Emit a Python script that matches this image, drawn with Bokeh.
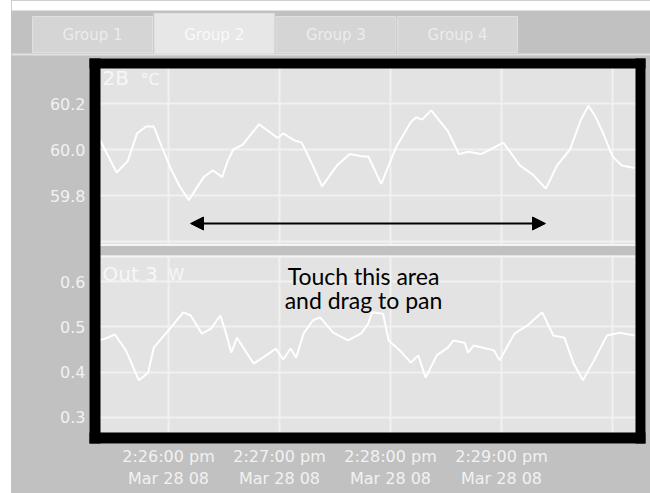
import numpy as np
from bokeh.plotting import figure
from bokeh.layouts import column, row, Spacer
from bokeh.models import (Range1d, FixedTicker, BoxAnnotation, Label, Arrow,
                          NormalHead, ColumnDataSource, DatetimeAxis, Grid)
from bokeh.core.properties import value
from bokeh.embed import file_html
from bokeh.resources import INLINE

# ---------------- data ----------------
DATE = "2008-03-28"

tab_names = ["Group 1", "Group 2", "Group 3", "Group 4"]
active_tab = 1

top_name, top_unit = "2B", "°C"
bot_name, bot_unit = "Out 3", "W"

top_times = ["14:25:23", "14:25:32", "14:25:38", "14:25:43", "14:25:48", "14:25:52",
             "14:25:57", "14:26:01", "14:26:06", "14:26:11", "14:26:15", "14:26:19",
             "14:26:24", "14:26:29", "14:26:32", "14:26:35", "14:26:40", "14:26:44",
             "14:26:49", "14:26:54", "14:26:59", "14:27:02", "14:27:08", "14:27:12",
             "14:27:18", "14:27:23", "14:27:31", "14:27:38", "14:27:45", "14:27:48",
             "14:27:55", "14:28:03", "14:28:11", "14:28:14", "14:28:17", "14:28:22",
             "14:28:31", "14:28:37", "14:28:42", "14:28:49", "14:28:54", "14:29:01",
             "14:29:10", "14:29:17", "14:29:24", "14:29:30", "14:29:37", "14:29:43",
             "14:29:47", "14:29:51", "14:29:55", "14:30:00", "14:30:05", "14:30:12"]
top_values = [60.04, 59.90, 59.95, 60.07, 60.10, 60.10,
              60.00, 59.92, 59.84, 59.78, 59.83, 59.88,
              59.91, 59.88, 59.95, 60.00, 60.02, 60.06,
              60.11, 60.08, 60.05, 60.07, 60.04, 60.03,
              59.93, 59.84, 59.93, 59.98, 59.97, 59.97,
              59.85, 60.01, 60.12, 60.14, 60.13, 60.17,
              60.08, 59.98, 59.99, 59.98, 60.00, 60.03,
              59.93, 59.89, 59.83, 59.93, 60.00, 60.13,
              60.19, 60.14, 60.07, 59.97, 59.93, 59.92]

bot_times = ["14:25:23", "14:25:27", "14:25:31", "14:25:37", "14:25:44", "14:25:49",
             "14:25:52", "14:26:00", "14:26:08", "14:26:12", "14:26:18", "14:26:23",
             "14:26:28", "14:26:31", "14:26:34", "14:26:37", "14:26:46", "14:26:51",
             "14:26:58", "14:27:02", "14:27:06", "14:27:09", "14:27:13", "14:27:18",
             "14:27:22", "14:27:29", "14:27:37", "14:27:44", "14:27:48", "14:27:50",
             "14:27:56", "14:27:59", "14:28:05", "14:28:11", "14:28:15", "14:28:19",
             "14:28:25", "14:28:31", "14:28:34", "14:28:40", "14:28:42", "14:28:45",
             "14:28:50", "14:28:56", "14:28:59", "14:29:07", "14:29:14", "14:29:22",
             "14:29:28", "14:29:34", "14:29:39", "14:29:44", "14:29:50", "14:29:57",
             "14:30:04", "14:30:12"]
bot_values = [0.470, 0.476, 0.483, 0.448, 0.382, 0.399,
              0.454, 0.492, 0.532, 0.525, 0.485, 0.496,
              0.525, 0.487, 0.443, 0.476, 0.419, 0.432,
              0.452, 0.428, 0.452, 0.432, 0.485, 0.514,
              0.521, 0.487, 0.470, 0.485, 0.507, 0.532,
              0.529, 0.470, 0.448, 0.421, 0.437, 0.388,
              0.437, 0.454, 0.470, 0.465, 0.443, 0.459,
              0.454, 0.448, 0.426, 0.485, 0.503, 0.532,
              0.481, 0.476, 0.419, 0.382, 0.426, 0.481,
              0.487, 0.481]

top_ticks = [59.8, 60.0, 60.2]
top_grid = [59.6, 59.8, 60.0, 60.2]
bot_ticks = [0.3, 0.4, 0.5, 0.6]

x_tick_times = ["14:26:00", "14:27:00", "14:28:00", "14:29:00"]
x_tick_clock = ["2:26:00 pm", "2:27:00 pm", "2:28:00 pm", "2:29:00 pm"]
x_tick_dates = ["Mar 28 08", "Mar 28 08", "Mar 28 08", "Mar 28 08"]
x_grid_times = ["14:26:00", "14:27:00", "14:28:00", "14:29:00", "14:30:00"]

hint_lines = ["Touch this area", "and drag to pan"]

# ---------------- styles / layout ----------------
BG = "#c1c1c1"
PANEL = "#e3e3e3"
GRID = "#f1f1f1"
TAB = "#d5d5d5"
TAB_ACTIVE = "#e7e7e7"
LABEL = "#f2f2f2"
LEFT_GAP = 11
W = 650 - LEFT_GAP


def dt(t):
    return np.datetime64(f"{DATE}T{t}", "ms")


def ms(t):
    return float(dt(t).astype("int64"))


# page pixel -> data helpers (scales of the two panels)
T0 = ms("14:26:00")
def xd(px):
    return T0 + (px - 168.0) / 111.0 * 60000.0
def yt(py):
    return 60.0 - (py - 149.0) / 230.0
def yb(py):
    return 0.6 - (py - 281.0) / 453.3


common = dict(toolbar_location=None, tools="", output_backend="svg",
              border_fill_color=BG, outline_line_color=None, frame_align=False,
              styles={"background-color": BG})

# ---------------- tabs header ----------------
tf = figure(width=W, height=58, x_range=Range1d(LEFT_GAP, 650), y_range=Range1d(58, 0),
            min_border=0, x_axis_location=None, y_axis_location=None,
            background_fill_color=BG, **common)
tf.xgrid.visible = False
tf.ygrid.visible = False
tf.quad(left=[LEFT_GAP], right=[650], top=[0], bottom=[10], fill_color="white", line_color=None)
tf.quad(left=[LEFT_GAP], right=[650], top=[53], bottom=[55], fill_color="#e2e2e2", line_color=None)
n = len(tab_names)
lefts = [32 + i * 121.7 for i in range(n)]
tf.quad(left=lefts, right=[l + 120 for l in lefts],
        top=[13 if i == active_tab else 16 for i in range(n)],
        bottom=[53 if i == active_tab else 52 for i in range(n)],
        fill_color=[TAB_ACTIVE if i == active_tab else TAB for i in range(n)],
        line_color="#e0e0e0", line_width=1)
tf.text(x=[l + 60 for l in lefts], y=[34] * n, text=tab_names,
        text_align="center", text_baseline="middle",
        text_font=value("DejaVu Sans"), text_font_size=value("15px"),
        text_color=["#fafafa" if i == active_tab else "#ececec" for i in range(n)])


def style_axis(ax, standoff):
    ax.axis_line_color = None
    ax.major_tick_line_color = None
    ax.minor_tick_line_color = None
    ax.major_tick_out = 0
    ax.major_tick_in = 0
    ax.minor_tick_out = 0
    ax.minor_tick_in = 0
    ax.major_label_standoff = standoff
    ax.major_label_text_font = "DejaVu Sans"
    ax.major_label_text_font_size = "16px"
    ax.major_label_text_color = LABEL


def box(p, l, r, b, t, color):
    p.add_layout(BoxAnnotation(left=l, right=r, bottom=b, top=t, fill_color=color,
                               fill_alpha=1, line_color=None))


# ---------------- both panels in one plot ----------------
top_range = Range1d(yt(443), yt(58))
bot_range = Range1d(yb(443), yb(58))

p = figure(width=W, height=435, x_range=Range1d(xd(89), xd(645)), y_range=top_range,
           x_axis_type="datetime", x_axis_location="below", y_axis_location="left",
           min_border_left=89 - LEFT_GAP, min_border_right=5, min_border_top=0,
           min_border_bottom=50, background_fill_color=PANEL, **common)
p.extra_y_ranges = {"bot": bot_range}


def bot_on_left_axis(v):
    # position of a lower-panel value on the shared left axis
    f = (v - bot_range.start) / (bot_range.end - bot_range.start)
    return top_range.start + f * (top_range.end - top_range.start)


# grids
p.xgrid.ticker = FixedTicker(ticks=[ms(t) for t in x_grid_times])
p.ygrid.ticker = FixedTicker(ticks=top_grid)
gb = Grid(dimension=1, ticker=FixedTicker(ticks=bot_ticks), y_range_name="bot")
p.add_layout(gb)
for g in (p.xgrid[0], p.ygrid[0], gb):
    g.grid_line_color = GRID
    g.grid_line_width = 2

# left axis carrying the labels of both panels
ya = p.yaxis[0]
left_ticks = list(top_ticks) + [bot_on_left_axis(v) for v in bot_ticks]
left_labels = [f"{v:.1f}" for v in top_ticks] + [f"{v:.1f}" for v in bot_ticks]
ya.ticker = FixedTicker(ticks=left_ticks)
ya.major_label_overrides = dict(zip(left_ticks, left_labels))
style_axis(ya, 4)

# x axes: time line and date line
xa = p.xaxis[0]
xa.ticker = FixedTicker(ticks=[ms(t) for t in x_tick_times])
xa.major_label_overrides = {ms(t): lab for t, lab in zip(x_tick_times, x_tick_clock)}
style_axis(xa, 3)
xa2 = DatetimeAxis(ticker=FixedTicker(ticks=[ms(t) for t in x_tick_times]),
                   major_label_overrides={ms(t): lab for t, lab in zip(x_tick_times, x_tick_dates)})
style_axis(xa2, 0)
p.add_layout(xa2, "below")

# series
src_t = ColumnDataSource(dict(t=[dt(s) for s in top_times], v=top_values))
p.line("t", "v", source=src_t, line_color="white", line_width=2)
src_b = ColumnDataSource(dict(t=[dt(s) for s in bot_times], v=bot_values))
p.line("t", "v", source=src_b, line_color="white", line_width=2, y_range_name="bot")

# separator band and black frame
box(p, xd(100), xd(635), yt(255), yt(245.5), BG)
box(p, xd(100), xd(635), yt(245.5), yt(243.5), "#f4f4f4")
box(p, xd(100), xd(635), yt(257), yt(255), "#f4f4f4")
box(p, xd(88), xd(646), yt(68), yt(57), "black")
box(p, xd(88), xd(646), yt(444), yt(432), "black")
box(p, xd(88), xd(100), yt(444), yt(57), "black")
box(p, xd(635), xd(646), yt(444), yt(57), "black")

# texts
p.add_layout(Label(x=xd(102), y=yt(89), text=top_name, text_font="DejaVu Sans",
                   text_font_size="20px", text_color="#f7f7f7"))
p.add_layout(Label(x=xd(140), y=yt(88), text=top_unit, text_font="DejaVu Sans",
                   text_font_size="16px", text_color="#f7f7f7"))
p.add_layout(Label(x=xd(102), y=yt(285), text=bot_name, text_font="DejaVu Sans",
                   text_font_size="20px", text_color="#f7f7f7"))
p.add_layout(Label(x=xd(168), y=yt(283), text=bot_unit, text_font="DejaVu Sans",
                   text_font_size="16px", text_color="#f7f7f7"))
p.add_layout(Arrow(x_start=xd(190), y_start=yt(223), x_end=xd(545), y_end=yt(223),
                   line_color="black", line_width=2,
                   start=NormalHead(size=13, fill_color="black", line_color="black"),
                   end=NormalHead(size=13, fill_color="black", line_color="black")))
for line_text, base in zip(hint_lines, [289, 313]):
    p.add_layout(Label(x=xd(363), y=yt(base), text=line_text, text_align="center",
                       text_font="Lato", text_font_size="23px", text_color="black"))

stack = column(tf, p, spacing=0, styles={"background-color": BG})
layout = row(Spacer(width=LEFT_GAP, height=493, styles={"background-color": "white"}),
             stack, spacing=0, styles={"background-color": BG})
open("out.html", "w").write(file_html(layout, INLINE))
